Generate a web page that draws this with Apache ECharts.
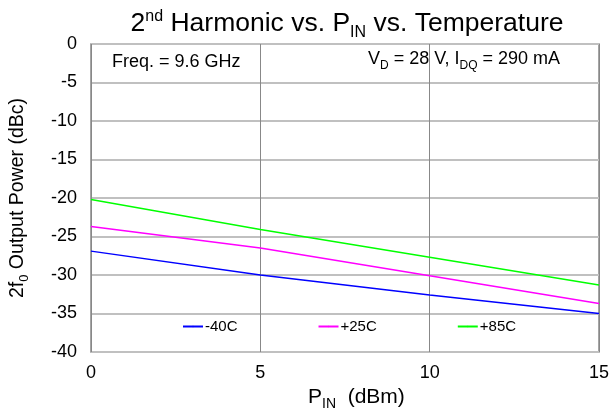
<!DOCTYPE html>
<html>
<head>
<meta charset="utf-8">
<script src="https://cdn.jsdelivr.net/npm/echarts@6/dist/echarts.min.js"></script>
<style>
html, body { margin: 0; padding: 0; background: #fff; }
#main { width: 613px; height: 419px; }
</style>
</head>
<body>
<div id="main"></div>
<script>
//输入功率 (dBm)
var pinList = [0, 5, 10, 15];
//各温度下二次谐波 (dBc)
var tempNames = ['-40C', '+25C', '+85C'];
var harmM40 = [-26.9, -30.0, -32.6, -35.0];
var harmP25 = [-23.7, -26.5, -30.1, -33.7];
var harmP85 = [-20.2, -24.1, -27.7, -31.3];
var lineColors = ['#0000ff', '#ff00ff', '#00ff00'];

function toPairs(ys){
	var arr = [];
	for (var i = 0; i < pinList.length; i++){
		arr.push([pinList[i], ys[i]]);
	}
	return arr;
}

var font = 'Liberation Sans, Arial, sans-serif';
var chart = echarts.init(document.getElementById('main'));
var allData = [harmM40, harmP25, harmP85];
var series = [];
for (var k = 0; k < tempNames.length; k++){
	series.push({
		name: tempNames[k],
		type: 'line',
		symbol: 'none',
		silent: true,
		lineStyle: { color: lineColors[k], width: 1.5 },
		itemStyle: { color: lineColors[k] },
		data: toPairs(allData[k])
	});
}

var option = {
	animation: false,
	backgroundColor: '#fff',
	title: {
		text: '{n|2}{sup|nd}{n| Harmonic vs. P}{sub|IN}{n| vs. Temperature}',
		left: 342,
		top: 2,
		textAlign: 'center',
		textStyle: {
			rich: {
				n: { fontFamily: font, fontSize: 26.5, fontWeight: 'normal', color: '#000', lineHeight: 34 },
				sup: { fontFamily: font, fontSize: 16, fontWeight: 'normal', color: '#000', lineHeight: 34, verticalAlign: 'top', padding: [2, 0, 8, 0] },
				sub: { fontFamily: font, fontSize: 16, fontWeight: 'normal', color: '#000', lineHeight: 34, verticalAlign: 'bottom', padding: [12, 0, 0, 0] }
			}
		}
	},
	grid: {
		left: 91, right: 14, top: 44, bottom: 67,
		show: true,
		borderColor: '#888',
		borderWidth: 1.5
	},
	legend: {
		left: 177,
		top: 314,
		itemWidth: 20,
		itemHeight: 2,
		itemGap: 80,
		selectedMode: false,
		data: tempNames,
		textStyle: { fontFamily: font, fontSize: 15, color: '#000', padding: [0, 0, 0, -3] }
	},
	xAxis: {
		type: 'value',
		min: 0, max: 15, interval: 5,
		axisLine: { show: false },
		axisTick: { show: false },
		axisLabel: { fontFamily: font, fontSize: 18, color: '#000', margin: 12 },
		splitLine: { show: true, lineStyle: { color: '#888', width: 1 } }
	},
	yAxis: {
		type: 'value',
		min: -40, max: 0, interval: 5,
		name: '{n|2f}{sub|0}{n| Output Power (dBc)}',
		nameLocation: 'middle',
		nameGap: 60,
		nameTextStyle: {
			rich: {
				n: { fontFamily: font, fontSize: 19.5, color: '#000', lineHeight: 26 },
				sub: { fontFamily: font, fontSize: 13, color: '#000', lineHeight: 26, verticalAlign: 'bottom', padding: [9, 0, 0, 0] }
			}
		},
		axisLine: { show: false },
		axisTick: { show: false },
		axisLabel: { fontFamily: font, fontSize: 18, color: '#000', margin: 14 },
		splitLine: { show: true, lineStyle: { color: '#c0c0c0', width: 2 } }
	},
	graphic: [
		{
			type: 'text',
			left: 308,
			top: 387,
			style: {
				text: '{n|P}{sub|IN}{n|  (dBm)}',
				rich: {
					n: { fontFamily: font, fontSize: 21, fill: '#000', lineHeight: 28 },
					sub: { fontFamily: font, fontSize: 14, fill: '#000', lineHeight: 28, verticalAlign: 'bottom', padding: [9, 0, 0, 0] }
				}
			}
		},
		{
			type: 'text',
			left: 112,
			top: 53,
			z: 100,
			style: { text: 'Freq. = 9.6 GHz', font: '18px ' + font, fill: '#000' }
		},
		{
			type: 'text',
			left: 368,
			top: 50,
			z: 100,
			style: {
				text: '{n|V}{sub|D}{n| = 28 V, I}{sub|DQ}{n| = 290 mA}',
				rich: {
					n: { fontFamily: font, fontSize: 18, fill: '#000', lineHeight: 25 },
					sub: { fontFamily: font, fontSize: 12, fill: '#000', lineHeight: 25, verticalAlign: 'bottom', padding: [9, 0, 0, 0] }
				}
			}
		}
	],
	series: series
};
chart.setOption(option);
</script>
</body>
</html>
